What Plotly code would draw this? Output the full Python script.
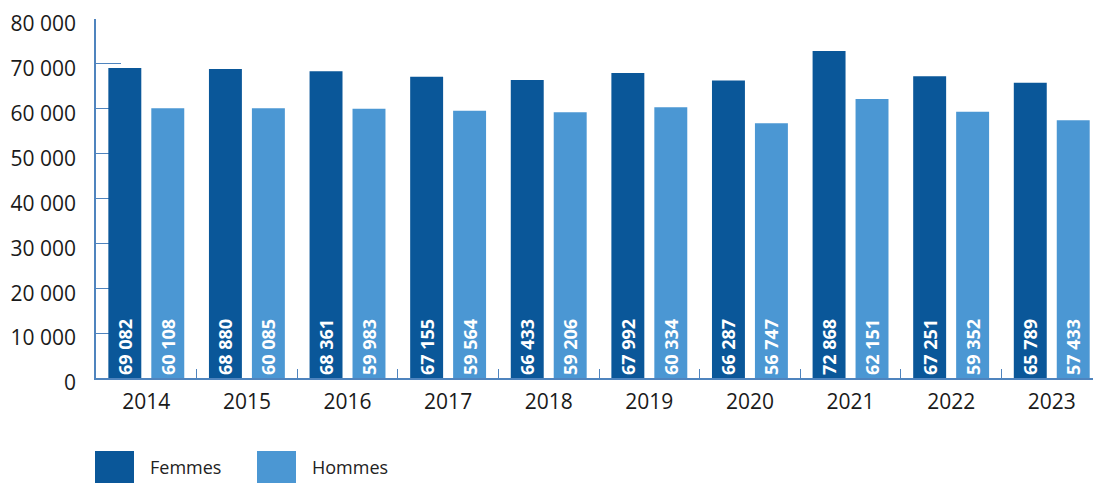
import plotly.graph_objects as go

years = ["2014", "2015", "2016", "2017", "2018", "2019", "2020", "2021", "2022", "2023"]
femmes = [69082, 68880, 68361, 67155, 66433, 67992, 66287, 72868, 67251, 65789]
hommes = [60108, 60085, 59983, 59564, 59206, 60334, 56747, 62151, 59352, 57433]
series_names = ["Femmes", "Hommes"]
colors = ["#0A5799", "#4B97D3"]
y_ticks = [0, 10000, 20000, 30000, 40000, 50000, 60000, 70000, 80000]

W, H = 1093, 483
ML, MR, MT, MB = 96, 0, 19, 105
PW, PH = W - ML - MR, H - MT - MB


def fmt(v):
    return f"{v:,}".replace(",", " ")


fig = go.Figure()
for name, vals, col in zip(series_names, [femmes, hommes], colors):
    fig.add_trace(go.Bar(
        x=years, y=vals, name=name, marker=dict(color=col, line=dict(width=0)),
        text=[fmt(v) for v in vals], textposition="inside", insidetextanchor="start",
        textangle=-90, cliponaxis=False,
        insidetextfont=dict(family="Open Sans", size=18, color="white", weight="bold"),
    ))

axis_col = "#4F84BE"
fig.update_layout(
    width=W, height=H, margin=dict(l=ML, r=MR, t=MT, b=MB),
    paper_bgcolor="white", plot_bgcolor="white",
    barmode="group", bargap=0.146, bargroupgap=0.233,
    showlegend=False, uniformtext=dict(mode=False),
    font=dict(family="Open Sans", color="#1a1a1a"),
    xaxis=dict(
        type="category", range=[-0.5, 9.41], showgrid=False,
        showline=True, linecolor=axis_col, linewidth=1.5,
        ticks="inside", tickson="boundaries", ticklen=9, tickcolor=axis_col, tickwidth=1,
        tickfont=dict(size=21, color="#1a1a1a"), ticklabelstandoff=4,
        layer="below traces",
    ),
    yaxis=dict(
        range=[0, 80000], tickvals=y_ticks, ticktext=[fmt(v) for v in y_ticks],
        showgrid=False, zeroline=False,
        showline=True, linecolor=axis_col, linewidth=1.5,
        ticks="inside", ticklen=25, tickcolor=axis_col, tickwidth=1,
        tickfont=dict(size=21, color="#1a1a1a"), ticklabelstandoff=14,
        ticklabelshift=5, layer="below traces",
    ),
)


def px_to_paper(xp, yp):
    return (xp - ML) / PW, (H - MB - yp) / PH


legend_items = [(95, 134, 148), (257, 296, 310)]
for (x0, x1, tx), name, col in zip(legend_items, series_names, colors):
    px0, py0 = px_to_paper(x0, 451)
    px1, py1 = px_to_paper(x1, 483)
    fig.add_shape(type="rect", xref="paper", yref="paper", x0=px0, x1=px1, y0=py1, y1=py0,
                  fillcolor=col, line=dict(width=0))
    tx_p, ty_p = px_to_paper(tx, 467)
    fig.add_annotation(xref="paper", yref="paper", x=tx_p, y=ty_p, text=name, showarrow=False,
                       xanchor="left", yanchor="middle",
                       font=dict(family="Open Sans", size=18, color="#222222"))

fig.write_html(
    "out.html",
    config={"displayModeBar": False},
    post_script="document.body.style.margin='0';document.body.style.overflow='hidden';",
)
